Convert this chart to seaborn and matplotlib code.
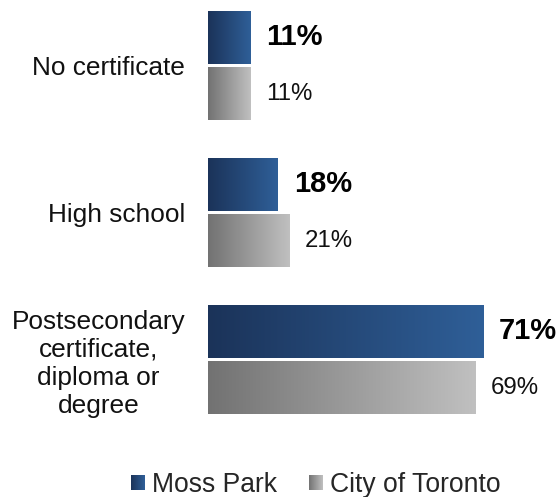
import numpy as np
import pandas as pd
import matplotlib
matplotlib.use("Agg")
import matplotlib.pyplot as plt
import seaborn as sns
from matplotlib.colors import LinearSegmentedColormap
from matplotlib.legend_handler import HandlerBase
from matplotlib.patches import Rectangle

# data
categories = ["No certificate", "High school",
              "Postsecondary\ncertificate,\ndiploma or\ndegree"]
series = ["Moss Park", "City of Toronto"]
moss_park = [11, 18, 71]
toronto = [11, 21, 69]

df = pd.DataFrame({
    "category": categories * 2,
    "area": [series[0]] * 3 + [series[1]] * 3,
    "pct": moss_park + toronto,
})

sns.set_theme(style="white")
plt.rcParams["font.family"] = ["Liberation Sans", "DejaVu Sans"]

blue_cmap = LinearSegmentedColormap.from_list("mp", ["#1b3359", "#2f5f98"])
grey_cmap = LinearSegmentedColormap.from_list("to", ["#727272", "#c0c0c0"])
cmaps = [blue_cmap, grey_cmap]

W, H = 559, 497
fig = plt.figure(figsize=(W / 100, H / 100), dpi=100)
ax = fig.add_axes([208 / W, 67 / H, 348.6 / W, 430 / H])

sns.barplot(data=df, y="category", x="pct", hue="area", orient="h",
            width=0.762, gap=0.06, palette=["#2a4f80", "#999999"],
            legend=False, ax=ax)

# replace flat bars with horizontal gradients
grad = np.linspace(0, 1, 256).reshape(1, -1)
for cont, cmap in zip(ax.containers, cmaps):
    for bar in cont:
        x0, y0 = bar.get_x(), bar.get_y()
        w, h = bar.get_width(), bar.get_height()
        ax.imshow(grad, extent=[x0, x0 + w, y0 + h, y0], cmap=cmap,
                  aspect="auto", interpolation="bilinear", zorder=2)
        bar.set_facecolor("none")
        bar.set_edgecolor("none")

ax.bar_label(ax.containers[0], labels=[f"{v}%" for v in moss_park],
             padding=11.5, fontsize=21, fontweight="bold", color="black")
ax.bar_label(ax.containers[1], labels=[f"{v}%" for v in toronto],
             padding=11, fontsize=17.3, color="#111111")

ax.set_xlim(0, 90)
ax.set_ylim(2.4796, -0.4456)
ax.set_xlabel("")
ax.set_ylabel("")
ax.set_xticks([])
sns.despine(ax=ax, left=True, bottom=True)
ax.tick_params(axis="y", length=0, pad=16.5, labelsize=18.9, labelcolor="#111111")
for lbl in ax.get_yticklabels():
    lbl.set_multialignment("center")
    lbl.set_linespacing(1.2)


class GradientHandler(HandlerBase):
    def __init__(self, cmap):
        super().__init__()
        self.cmap = cmap

    def create_artists(self, legend, orig_handle, xdescent, ydescent,
                       width, height, fontsize, trans):
        size = min(width, height)
        x0 = -xdescent + (width - size) / 2
        y0 = -ydescent + (height - size) / 2
        n = 14
        arts = []
        for i in range(n):
            arts.append(Rectangle((x0 + i * size / n, y0), size / n * 1.05, size,
                                  facecolor=self.cmap((i + 0.5) / n),
                                  edgecolor="none", transform=trans))
        return arts


h1 = Rectangle((0, 0), 1, 1)
h2 = Rectangle((0, 0), 1, 1)
fig.legend([h1, h2], series, loc="center", ncol=2,
           bbox_to_anchor=(315.5 / W, 12 / H), frameon=False, fontsize=19.1,
           handlelength=0.55, handleheight=0.55, handletextpad=0.25,
           columnspacing=1.2, borderpad=0,
           handler_map={h1: GradientHandler(blue_cmap),
                        h2: GradientHandler(grey_cmap)})

fig.savefig("out.png", dpi=100)
